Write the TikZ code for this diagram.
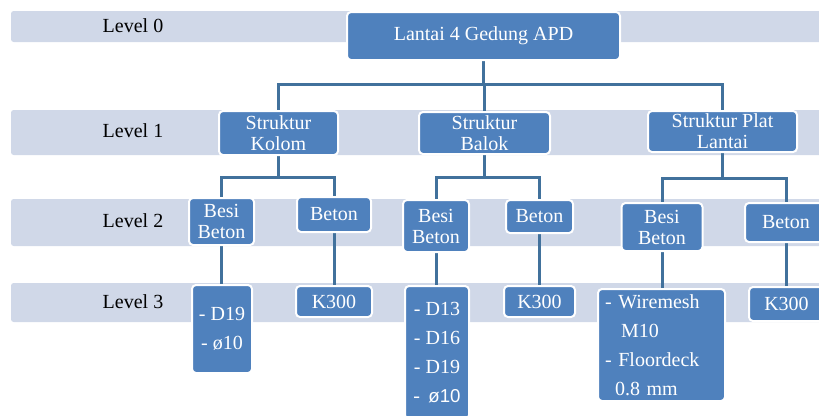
\documentclass[tikz,border=0pt]{standalone}
\usepackage{fontspec}
\setmainfont{Liberation Serif}
\newfontfamily\sansf{Liberation Sans}
\usetikzlibrary{backgrounds}
\definecolor{bandc}{HTML}{D0D8E8}
\definecolor{boxc}{HTML}{4F81BD}
\definecolor{linec}{HTML}{41719C}
\tikzset{
  box/.style={rectangle, rounded corners=3pt, fill=boxc, draw=white, line width=1.5pt,
    text=white, inner sep=0pt, align=center, font=\fontsize{15}{15.75}\selectfont},
  sz/.style 2 args={minimum width=#1*0.75pt, minimum height=#2*0.75pt},
  lst/.style={font=\fontsize{15}{21.75}\selectfont},
  conn/.style={draw=linec, line width=2.25pt},
  lvl/.style={font=\fontsize{15}{18}\selectfont, text=black, inner sep=0pt},
  bandfill/.style={fill=bandc, rounded corners=2pt}
}
\begin{document}
\begin{tikzpicture}[x=0.75pt,y=-0.75pt]
\useasboundingbox (0,0) rectangle (819,415);

% level labels
\node[lvl] (l0) at (133,26) {Level 0};
\node[lvl] (l1) at (133,131) {Level 1};
\node[lvl] (l2) at (133,221) {Level 2};
\node[lvl] (l3) at (133,302) {Level 3};

% boxes
\node[box, sz={273}{48}] (top) at (483.5,36) {Lantai 4 Gedung APD};
\node[box, sz={119}{44}] (kolom) at (278.5,133) {Struktur\\Kolom};
\node[box, sz={131}{42}] (balok) at (484.5,133) {Struktur\\Balok};
\node[box, sz={149}{41}] (plat) at (722.5,131.5) {Struktur Plat\\Lantai};

\node[box, sz={65}{47}] (besiK) at (221.5,221.5) {Besi\\Beton};
\node[box, sz={74}{35}] (betonK) at (334,214.5) {Beton};
\node[box, sz={66}{52}] (besiB) at (436,226) {Besi\\Beton};
\node[box, sz={67}{33}] (betonB) at (539.5,216.5) {Beton};
\node[box, sz={81}{48}] (besiP) at (662,227) {Besi\\Beton};
\node[box, sz={82}{39}] (betonP) at (786,222.5) {Beton};

\node[box, lst, sz={60}{88}] (d19) at (222,329) {- D19\\- ø10};
\node[box, sz={76}{31}] (k300K) at (334,301.5) {K300};
\node[box, lst, sz={64}{133}] (d13) at (437,352.5) {- D13\\- D16\\- D19\\- \,{\sansf\fontsize{14}{21.75}\selectfont ø10}};
\node[box, sz={71}{31}] (k300B) at (539.5,301.5) {K300};
\node[box, lst, sz={127}{112}, text width=84.75pt, align=left] (wire) at (661.5,345)
  {- Wiremesh\\\hspace*{12pt}M10\\- Floordeck\\\hspace*{7.5pt}0.8 mm};
\node[box, sz={75}{34}] (k300P) at (786.5,304) {K300};

\begin{scope}[on background layer]
  \fill[bandfill] (11,11) rectangle (830,42);
  \fill[bandfill] (11,110) rectangle (830,155);
  \fill[bandfill] (11,199) rectangle (830,246);
  \fill[bandfill] (11,283) rectangle (830,322);

  \coordinate (j0) at (483.5,84);
  \draw[conn] (top.south) -- (j0);
  \draw[conn] (kolom.north) |- (j0);
  \draw[conn] (plat.north) |- (j0);
  \draw[conn] (balok.north) -- (balok.north |- j0);

  \coordinate (j1) at (278.5,177);
  \draw[conn] (kolom.south) -- (j1);
  \draw[conn] (besiK.north) |- (j1);
  \draw[conn] (betonK.north) |- (j1);

  \coordinate (j2) at (484.5,177);
  \draw[conn] (balok.south) -- (j2);
  \draw[conn] (besiB.north) |- (j2);
  \draw[conn] (betonB.north) |- (j2);

  \coordinate (j3) at (722.5,178);
  \draw[conn] (plat.south) -- (j3);
  \draw[conn] (besiP.north) |- (j3);
  \draw[conn] (betonP.north) |- (j3);

  \draw[conn] (besiK.south) -- (besiK.south |- d19.north);
  \draw[conn] (betonK.south) -- (betonK.south |- k300K.north);
  \draw[conn] (besiB.south) -- (besiB.south |- d13.north);
  \draw[conn] (betonB.south) -- (betonB.south |- k300B.north);
  \draw[conn] (besiP.south) -- (besiP.south |- wire.north);
  \draw[conn] (betonP.south) -- (betonP.south |- k300P.north);
\end{scope}
\end{tikzpicture}
\end{document}
